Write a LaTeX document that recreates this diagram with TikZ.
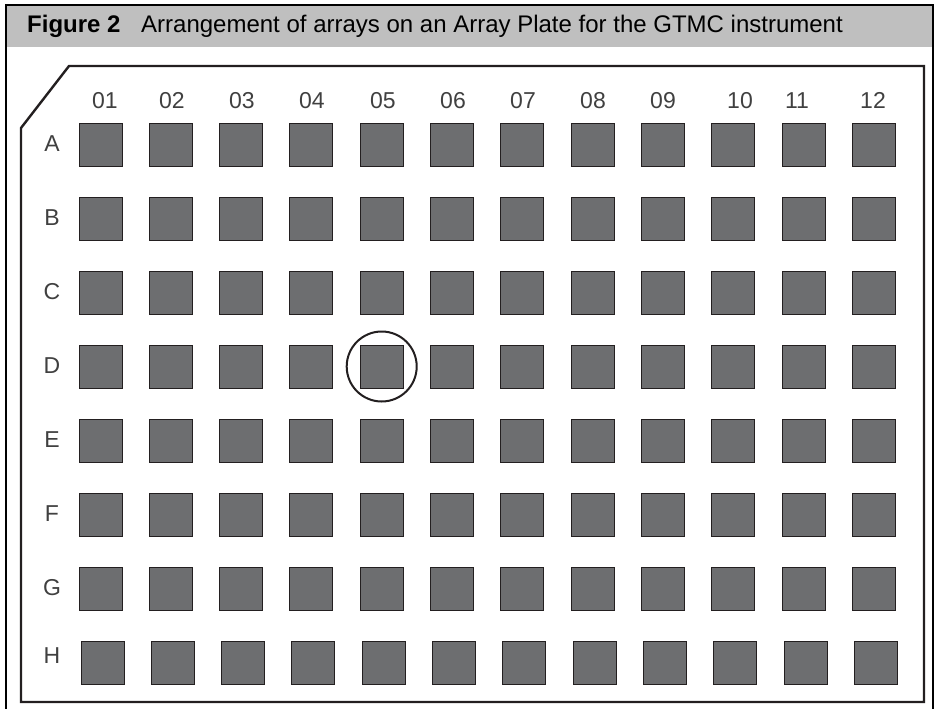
\documentclass[tikz,border=0pt]{standalone}
\usepackage{fontspec}
\setmainfont{Liberation Sans}
\definecolor{headgray}{RGB}{191,191,191}
\definecolor{wellgray}{RGB}{109,110,112}
\definecolor{inkdark}{RGB}{35,31,32}
\begin{document}
\begin{tikzpicture}[x=1pt, y=-1pt,
    well/.style={draw=inkdark, line width=1pt, fill=wellgray, minimum size=43pt, inner sep=0pt},
    lbl/.style={font=\fontsize{23}{23}\selectfont, text=black!75, inner sep=0pt, anchor=base}]
    \useasboundingbox (0,0) rectangle (935,709);

    % Caption bar
    \fill[headgray] (6,5) rectangle (933,47);
    \node[anchor=base west, inner sep=0pt, font=\fontsize{24}{24}\selectfont\bfseries] (fignum) at (27,33) {Figure 2};
    \node[anchor=base west, inner sep=0pt, font=\fontsize{24}{24}\selectfont] (figtitle) at (141,33) {Arrangement of arrays on an Array Plate for the GTMC instrument};
    \draw[line width=1.2pt] (6,712) -- (6,5) -- (933,5) -- (933,712);

    % Plate outline with cut corner
    \draw[inkdark, line width=2.4pt, line join=miter] (69,66) -- (924,66) -- (924,702) -- (21,702) -- (21,128) -- cycle;

    % Column numbers
    \foreach \c/\x in {01/105, 02/172, 03/242, 04/312, 05/383, 06/453, 07/523, 08/593, 09/663, 10/740, 11/797, 12/873}
        \node[lbl] (col-\c) at (\x,108) {\c};

    % Arrays, row by row
    \foreach \r [count=\i from 0] in {A,B,C,D,E,F,G} {
        \node[lbl] (row-\r) at (52,151+\i*74) {\r};
        \foreach \c [count=\j from 0] in {01,02,03,04,05,06,07,08,09,10,11,12}
            \node[well] (sq-\r-\c) at (100.5+\j*70.3,144.5+\i*74) {};
    }
    % last row sits a little to the right
    \node[lbl] (row-H) at (52,663) {H};
    \foreach \c [count=\j from 0] in {01,02,03,04,05,06,07,08,09,10,11,12}
        \node[well] (sq-H-\c) at (102.5+\j*70.3,662.5) {};

    % Marked array
    \node[circle, draw=inkdark, line width=2pt, minimum size=70pt, inner sep=0pt] (mark) at (sq-D-05) {};
\end{tikzpicture}
\end{document}
